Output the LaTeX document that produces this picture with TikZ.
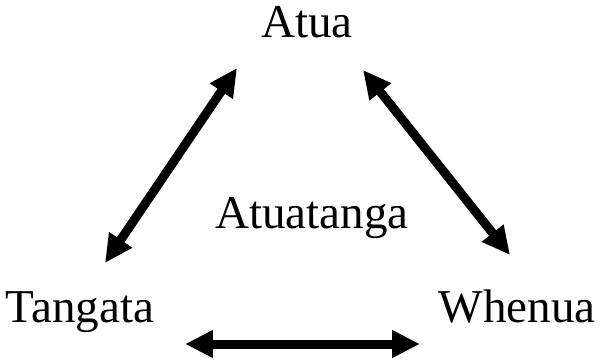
\documentclass[tikz,border=0pt]{standalone}
\usepackage{fontspec}
\setmainfont{Liberation Serif}
\usetikzlibrary{arrows.meta, positioning}
\tikzset{
  termlabel/.style={anchor=base, inner sep=0pt, font=\fontsize{26.8}{32}\selectfont},
  linkarrow/.style={{Triangle[length=0.56cm, width=0.52cm]}-{Triangle[length=0.56cm, width=0.52cm]}, line width=0.18cm, black},
}
\begin{document}
\begin{tikzpicture}[x=0.02cm, y=-0.02cm]
  \useasboundingbox (0,0) rectangle (601,359);

  % Concepts
  \node[termlabel] (atua) at (307,37) {Atua};
  \node[termlabel] (atuatanga) at (312,228) {Atuatanga};
  \node[termlabel] (tangata) at (80,322) {Tangata};
  \node[termlabel] (whenua) at (517,322) {Whenua};

  % Arrow ends
  \coordinate (atuaL) at (237,68);
  \coordinate (atuaR) at (363,70);
  \coordinate (tangataT) at (105,263);
  \coordinate (tangataB) at (185,344);
  \coordinate (whenuaT) at (510,255);
  \coordinate (whenuaB) at (420,344);

  % Arrows
  \draw[linkarrow] (tangataT) -- (atuaL);
  \draw[linkarrow] (atuaR) -- (whenuaT);
  \draw[linkarrow] (tangataB) -- (whenuaB);
\end{tikzpicture}
\end{document}
